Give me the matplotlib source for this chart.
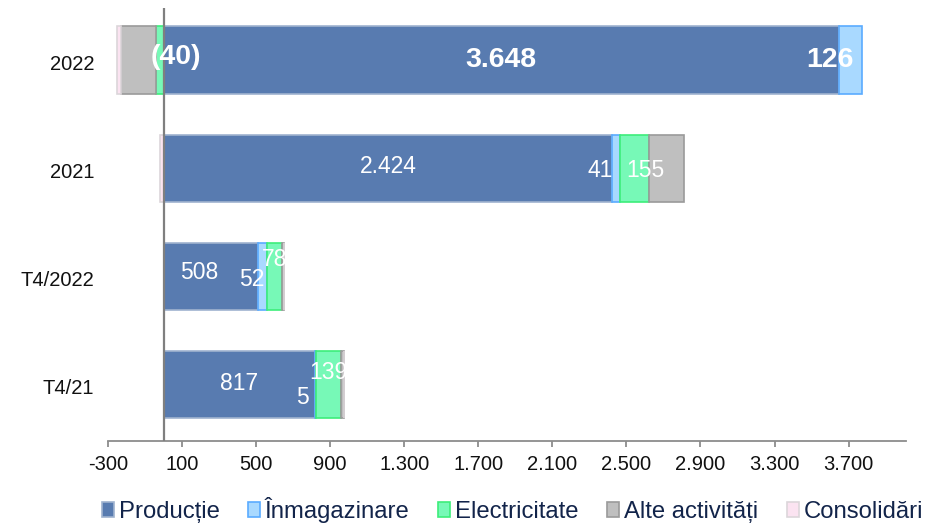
import matplotlib
matplotlib.use("Agg")
import matplotlib.pyplot as plt
from matplotlib.ticker import FuncFormatter, FixedLocator
from matplotlib.patches import Patch
import numpy as np

plt.rcParams['font.family'] = ['Liberation Sans', 'DejaVu Sans']

categories = ["2022", "2021", "T4/2022", "T4/21"]
series_names = ["Producție", "Înmagazinare", "Electricitate", "Alte activități", "Consolidări"]
productie = [3648, 2424, 508, 817]
inmagazinare = [126, 41, 52, 5]
electricitate = [-40, 155, 78, 139]
alte = [-190, 190, 10, 15]
consolidari = [-20, -20, 0, 0]
xticks = [-300, 100, 500, 900, 1300, 1700, 2100, 2500, 2900, 3300, 3700]

fills = ["#587bb0", "#a9d9ff", "#77f9b7", "#bfbfbf", "#fbe3f1"]
edges = ["#9fb3cf", "#5aabff", "#3ded7a", "#9a9a9a", "#dcd6da"]

series = [productie, inmagazinare, electricitate, alte, consolidari]

fig = plt.figure(figsize=(9.4, 5.26), dpi=100)
ax = fig.add_axes([108/940, 1-441/526, 798/940, 433/526])

ypos = np.arange(len(categories))
pos_base = np.zeros(len(categories))
neg_base = np.zeros(len(categories))
seg_info = []  # (series idx, cat idx, left, width)
for si, vals in enumerate(series):
    vals = np.array(vals, dtype=float)
    left = np.where(vals >= 0, pos_base, neg_base)
    ax.barh(ypos - 0.02, vals, left=left, height=0.62, color=fills[si],
            edgecolor=edges[si], linewidth=1.2, zorder=2)
    for ci in range(len(categories)):
        seg_info.append((si, ci, left[ci], vals[ci]))
    pos_base = pos_base + np.where(vals >= 0, vals, 0)
    neg_base = neg_base + np.where(vals < 0, vals, 0)

ax.axvline(0, color="#7f7f7f", linewidth=1.6, zorder=3)

def fmt_num(v):
    s = f"{abs(int(round(v))):,}".replace(",", ".")
    return f"({s})" if v < 0 else s

# label offsets (pixels) per (series, category)
label_cfg = {
    (2, 0): (16, 3), (0, 0): (0, 0), (1, 0): (-21, 0),
    (0, 1): (0, 2), (1, 1): (-16, -2), (2, 1): (11, -2),
    (0, 2): (-11, 4), (1, 2): (-11, -3), (2, 2): (0, 17),
    (0, 3): (0, 1), (1, 3): (-13, -13), (2, 3): (0, 12),
}
for si, ci, left, w in seg_info:
    key = (si, ci)
    if key not in label_cfg:
        continue
    dx, dy = label_cfg[key]
    cx = left + w / 2
    bold = ci == 0
    ax.annotate(fmt_num(w), (cx, ypos[ci] - 0.02), xytext=(dx * 0.72, dy * 0.72),
                textcoords="offset points", ha="center", va="center",
                color="white", fontsize=20.5 if bold else 16.5,
                fontweight="bold" if bold else "normal", zorder=5)

ax.set_xlim(-300, 4010)
ax.set_ylim(len(categories) - 0.5, -0.5)
ax.xaxis.set_major_locator(FixedLocator(xticks))
ax.xaxis.set_major_formatter(FuncFormatter(lambda v, p: f"{int(v):,}".replace(",", ".")))
ax.set_yticks(ypos)
ax.set_yticklabels(categories)

for s in ["top", "right", "left"]:
    ax.spines[s].set_visible(False)
ax.spines["bottom"].set_color("#8c8c8c")
ax.spines["bottom"].set_linewidth(1.3)
ax.tick_params(axis="x", colors="#8c8c8c", length=4, width=1.3, pad=6,
               labelsize=14.5, labelcolor="#111111")
ax.tick_params(axis="y", length=0, pad=10, labelsize=14.5, labelcolor="#111111")

handles = [Patch(facecolor=fills[i], edgecolor=edges[i], linewidth=1.2) for i in range(5)]
leg = fig.legend(handles, series_names, loc="center", bbox_to_anchor=(0.545, 1-510/526),
                 ncol=5, frameon=False, fontsize=17.2, handlelength=0.5, handleheight=0.55,
                 handletextpad=0.2, columnspacing=1.2, borderaxespad=0)
for t in leg.get_texts():
    t.set_color("#12244a")

fig.savefig("out.png", dpi=100)
